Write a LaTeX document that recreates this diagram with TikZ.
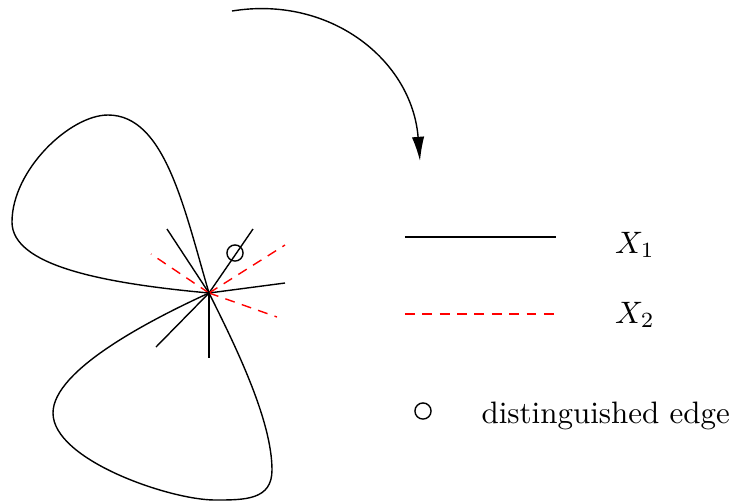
\documentclass[tikz,border=0pt]{standalone}
\usetikzlibrary{arrows.meta}
\begin{document}
\begin{tikzpicture}[
    x=0.01134cm, y=-0.01134cm,
    edge one/.style={
        draw=black,
        line width=0.45pt
    },
    edge two/.style={
        draw=red,
        line width=0.45pt,
        dash pattern=on 3.2pt off 2.4pt
    },
    marked/.style={
        circle,
        draw=black,
        line width=0.45pt,
        inner sep=0pt,
        minimum size=5.2pt
    },
    legend text/.style={
        font=\normalsize,
        text=black
    }
]
    \useasboundingbox (0,0) rectangle (730,502);

    % Zentrum und Endpunkte der Kanten
    \coordinate (hub) at (209,293);
    \foreach \name/\xpos/\ypos in {a/167/229,b/253/229,c/285/283,
                                   d/156/347,e/209/358} {
        \coordinate (one\name) at (\xpos,\ypos);
        \draw[edge one] (hub) -- (one\name);
    }
    \foreach \name/\xpos/\ypos in {a/151/254,b/285/245,c/277/317} {
        \coordinate (two\name) at (\xpos,\ypos);
        \draw[edge two] (hub) -- (two\name);
    }

    % Schleifen
    \draw[edge one] (hub)
        .. controls (184,208) and (165,115) .. (108,115)
        .. controls (70,115) and (12,170) .. (12,222)
        .. controls (12,265) and (100,283) .. (hub);
    \draw[edge one] (hub)
        .. controls (235,345) and (272,420) .. (272,470)
        .. controls (272,500) and (245,500) .. (215,500)
        .. controls (170,500) and (53,460) .. (53,413)
        .. controls (53,370) and (150,320) .. (hub);

    % ausgezeichnete Kante
    \node[marked] (mark) at (235,253) {};

    % Pfeil
    \coordinate (arrowstart) at (232,11);
    \coordinate (arrowend) at (420,161);
    \draw[edge one, -{Latex[length=7.8pt,width=4pt]}] (arrowstart)
        .. controls (330,-5) and (412,60) .. (arrowend);

    % Legende
    \coordinate (leg1a) at (405,237);
    \coordinate (leg1b) at (556,237);
    \coordinate (leg2a) at (405,314);
    \coordinate (leg2b) at (556,314);
    \draw[edge one] (leg1a) -- (leg1b);
    \draw[edge two] (leg2a) -- (leg2b);
    \node[legend text] (lab1) at (635,245) {$X_1$};
    \node[legend text] (lab2) at (635,315) {$X_2$};
    \node[marked] (legmark) at (423,411) {};
    \node[legend text, anchor=west, inner sep=0pt] (lab3) at (481,416)
        {distinguished edge};
\end{tikzpicture}
\end{document}
